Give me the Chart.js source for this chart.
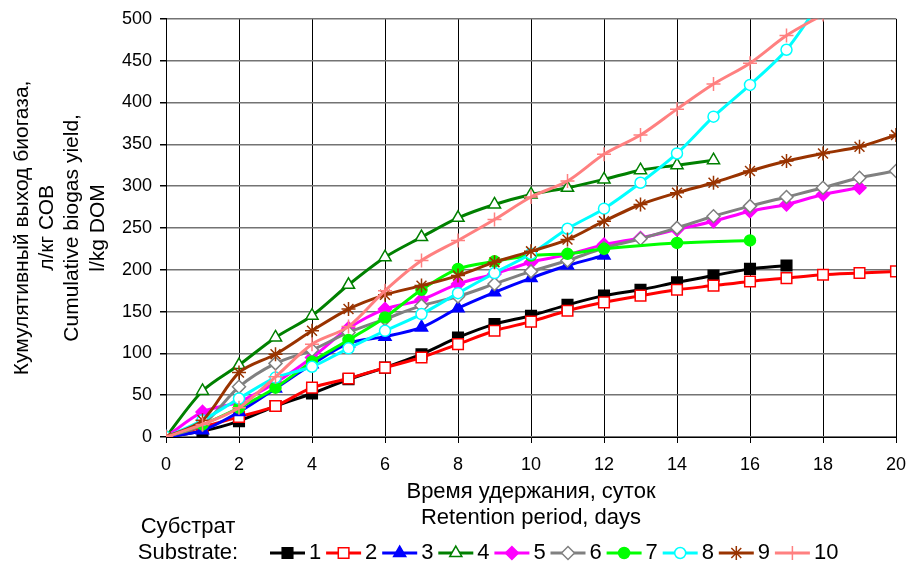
<!DOCTYPE html>
<html><head><meta charset="utf-8">
<style>html,body{margin:0;padding:0;background:#fff;}canvas{display:block;}</style>
<script src="https://cdn.jsdelivr.net/npm/chart.js@4.4.1/dist/chart.umd.min.js"></script>
</head><body>
<canvas id="c" width="909" height="564"></canvas>
<script>
// ---- data ----
const seriesLabels = ['1','2','3','4','5','6','7','8','9','10'];
const days = [0,1,2,3,4,5,6,7,8,9,10,11,12,13,14,15,16,17,18,19,20];
const days7 = [0,1,2,3,4,5,6,7,8,9,10,11,12,14,16];
const s1 = [0,7,19,37,52,69,83,99,119,135,145,158,169,176,185,193,201,205];
const s2 = [0,12,24,37,59,70,83,95,111,127,138,151,161,169,176,181,186,190,194,196,198];
const s3 = [0,8,30,58,87,112,120,131,154,173,190,205,217];
const s4 = [0,55,86,119,145,182,215,239,262,278,290,298,308,319,325,331];
const s5 = [0,30,42,65,95,130,153,164,183,195,209,218,230,238,248,258,270,278,290,298];
const s6 = [0,15,60,88,104,125,141,157,168,183,198,211,226,237,250,264,276,287,298,310,318];
const s7 = [0,15,35,59,90,116,143,176,201,210,217,219,225,232,235];
const s8 = [0,20,46,71,84,106,127,147,172,196,219,249,273,304,339,383,421,463,525];
const s9 = [0,20,77,99,127,153,170,181,193,209,222,236,258,278,292,304,318,330,339,347,361];
const s10 = [0,15,35,72,111,132,175,211,235,260,287,306,338,361,392,422,447,480,505];
const yTitle = ['Кумулятивный выход биогаза,', 'л/кг СОВ', 'Cumulative biogas yield,', 'l/kg DOM'];
const xTitle = ['Время удержания, суток', 'Retention period, days'];
const legendTitle = ['Субстрат', 'Substrate:'];

// ---- styles ----
const FONT = '"Liberation Sans", Arial, sans-serif';
const styles = [
  {c:'#000000', ps:'rect', r:7.5, fill:'#000000'},
  {c:'#ff0000', ps:'rect', r:7.5, fill:'#ffffff'},
  {c:'#0000ff', ps:'triangle', r:7, fill:'#0000ff'},
  {c:'#008000', ps:'triangle', r:7, fill:'#ffffff'},
  {c:'#ff00ff', ps:'rectRot', r:6.5, fill:'#ff00ff'},
  {c:'#808080', ps:'rectRot', r:6.5, fill:'#ffffff'},
  {c:'#00ff00', ps:'circle', r:5.5, fill:'#00ff00'},
  {c:'#00ffff', ps:'circle', r:5.5, fill:'#ffffff'},
  {c:'#993300', ps:'star', r:7, fill:'#993300'},
  {c:'#ff8080', ps:'cross', r:7, fill:'#ff8080'}
];
const values = [s1,s2,s3,s4,s5,s6,s7,s8,s9,s10];
const xs = [days,days,days,days,days,days,days7,days,days,days];

const datasets = values.map((v,i)=>({
  label: seriesLabels[i],
  data: v.map((y,k)=>({x: xs[i][k], y})),
  borderColor: styles[i].c,
  backgroundColor: styles[i].c,
  borderWidth: 3,
  tension: 0.3,
  pointStyle: styles[i].ps,
  pointRadius: styles[i].r,
  pointBackgroundColor: styles[i].fill,
  pointBorderColor: styles[i].c,
  pointBorderWidth: 1.5,
  order: 10 - i
}));

const legendPlugin = {
  id: 'customLegend',
  afterDraw(chart) {
    const ctx = chart.ctx;
    ctx.save();
    ctx.fillStyle = '#000';
    ctx.font = '22px ' + FONT;
    ctx.textAlign = 'center';
    ctx.textBaseline = 'middle';
    ctx.fillText(legendTitle[0], 188, 527);
    ctx.fillText(legendTitle[1], 188, 553);
    const y = 553;
    chart.data.datasets.forEach((ds, i) => {
      const x0 = 270 + i * 56.1;
      ctx.strokeStyle = ds.borderColor;
      ctx.lineWidth = 3;
      ctx.beginPath();
      ctx.moveTo(x0, y); ctx.lineTo(x0 + 35, y);
      ctx.stroke();
      ctx.fillStyle = ds.pointBackgroundColor;
      ctx.strokeStyle = ds.pointBorderColor;
      ctx.lineWidth = ds.pointBorderWidth;
      Chart.helpers.drawPoint(ctx, {pointStyle: ds.pointStyle, radius: ds.pointRadius, borderWidth: ds.pointBorderWidth, rotation: 0}, x0 + 17.5, y);
      ctx.fillStyle = '#000';
      ctx.textAlign = 'left';
      ctx.fillText(ds.label, x0 + 39, y);
    });
    ctx.restore();
  }
};

new Chart(document.getElementById('c'), {
  type: 'line',
  data: { datasets },
  plugins: [legendPlugin],
  options: {
    responsive: false,
    devicePixelRatio: 1,
    animation: false,
    layout: { padding: { left: 9, right: 13, top: 17, bottom: 33 } },
    plugins: { legend: { display: false }, tooltip: { enabled: false } },
    scales: {
      x: {
        type: 'linear', min: 0, max: 20,
        afterFit(s) { s.height = 94; s.paddingRight = 0; s.paddingLeft = 0; },
        ticks: { stepSize: 2, color: '#000', padding: 11, font: { size: 18, family: FONT } },
        grid: { color: '#000', lineWidth: 1, tickColor: '#000', tickLength: 6 },
        border: { color: '#000', width: 1 },
        title: { display: true, text: xTitle, color: '#000', padding: 0, font: { size: 22, family: FONT, lineHeight: 1.18 } }
      },
      y: {
        min: 0, max: 500,
        afterFit(s) { s.width = 157; },
        ticks: { stepSize: 50, color: '#000', padding: 8, font: { size: 18, family: FONT } },
        grid: { color: '#737373', lineWidth: 1.5, tickColor: '#000', tickLength: 6 },
        border: { color: '#000', width: 1 },
        title: { display: true, text: yTitle, color: '#000', padding: 0, font: { size: 21, family: FONT, lineHeight: 1.21 } }
      }
    }
  }
});
</script>
</body></html>
